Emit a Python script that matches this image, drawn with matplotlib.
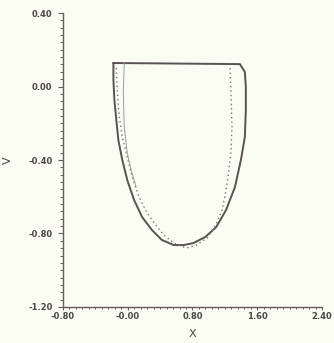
import matplotlib
matplotlib.use('Agg')
import matplotlib.pyplot as plt
from matplotlib.ticker import MultipleLocator
from matplotlib.font_manager import FontProperties

# outer contour (solid), traced counter-clockwise from the top-left corner
solid_x = [-0.177, -0.177, -0.165, -0.141, -0.116, -0.067, -0.006, 0.079, 0.177,
           0.299, 0.421, 0.568, 0.690, 0.812, 0.958, 1.093, 1.215, 1.325, 1.398,
           1.447, 1.459, 1.459, 1.447, 1.386, -0.177]
solid_y = [0.128, 0.035, -0.073, -0.182, -0.291, -0.400, -0.509, -0.618, -0.710,
           -0.781, -0.835, -0.863, -0.863, -0.852, -0.819, -0.765, -0.672, -0.547,
           -0.400, -0.275, -0.128, -0.003, 0.079, 0.122, 0.128]

# comparison curve (dotted)
dot_x = [-0.141, -0.128, -0.104, -0.067, -0.006, 0.055, 0.140, 0.238, 0.348,
         0.445, 0.568, 0.726, 0.848, 0.983, 1.080, 1.166, 1.215, 1.251, 1.276,
         1.288, 1.276, 1.264]
dot_y = [0.101, -0.035, -0.166, -0.275, -0.384, -0.493, -0.601, -0.688, -0.754,
         -0.808, -0.852, -0.879, -0.863, -0.824, -0.759, -0.672, -0.563, -0.454,
         -0.346, -0.220, -0.035, 0.101]

# thin inner wall line
inner_x = [-0.043, -0.055, -0.043, -0.006, 0.042, 0.104]
inner_y = [0.128, -0.035, -0.220, -0.362, -0.454, -0.547]

x_ticks = [-0.80, 0.00, 0.80, 1.60, 2.40]
x_labels = ['-0.80', '-0.00', '0.80', '1.60', '2.40']
y_ticks = [0.40, 0.00, -0.40, -0.80, -1.20]
y_labels = ['0.40', '0.00', '-0.40', '-0.80', '-1.20']

BG = '#fafcf1'
INK = '#4d4646'
AXC = '#6a5c5c'

fig = plt.figure(figsize=(3.34, 3.43), dpi=100, facecolor=BG)
ax = fig.add_axes([0.1886, 0.105, 0.7754, 0.857], facecolor=BG)

ax.plot(solid_x, solid_y, color='#585252', lw=1.4,
        solid_joinstyle='round', solid_capstyle='round')
ax.plot(dot_x, dot_y, color='#7a7474', lw=1.0, linestyle=(0, (1, 2.2)))
ax.plot(inner_x, inner_y, color='#a09a9a', lw=0.7)

ax.set_xlim(-0.80, 2.40)
ax.set_ylim(-1.20, 0.40)

for side in ['top', 'right']:
    ax.spines[side].set_visible(False)
for side in ['left', 'bottom']:
    ax.spines[side].set_color(AXC)
    ax.spines[side].set_linewidth(1.0)

ax.set_xticks(x_ticks)
ax.set_xticklabels(x_labels)
ax.set_yticks(y_ticks)
ax.set_yticklabels(y_labels)
ax.xaxis.set_minor_locator(MultipleLocator(0.08))
ax.yaxis.set_minor_locator(MultipleLocator(0.04))

tick_font = FontProperties(family='DejaVu Sans', weight='bold', size=6.0)
for lab in ax.get_xticklabels() + ax.get_yticklabels():
    lab.set_fontproperties(tick_font)
    lab.set_color(INK)

ax.tick_params(axis='y', which='major', direction='out', length=3.5, width=0.8,
               color=AXC, pad=4)
ax.tick_params(axis='y', which='minor', direction='out', length=2, width=0.7,
               color=AXC)
ax.tick_params(axis='x', which='major', direction='out', length=2.5, width=0.8,
               color=AXC, pad=1)
ax.tick_params(axis='x', which='minor', direction='out', length=1.5, width=0.7,
               color=AXC)

ax.set_xlabel('X', fontsize=8, color=INK)
ax.xaxis.set_label_coords(0.5, -0.075)
ax.set_ylabel('V', fontsize=8, color=INK, rotation=90)
ax.yaxis.set_label_coords(-0.195, 0.5)

fig.savefig('out.png', dpi=100, facecolor=BG)
